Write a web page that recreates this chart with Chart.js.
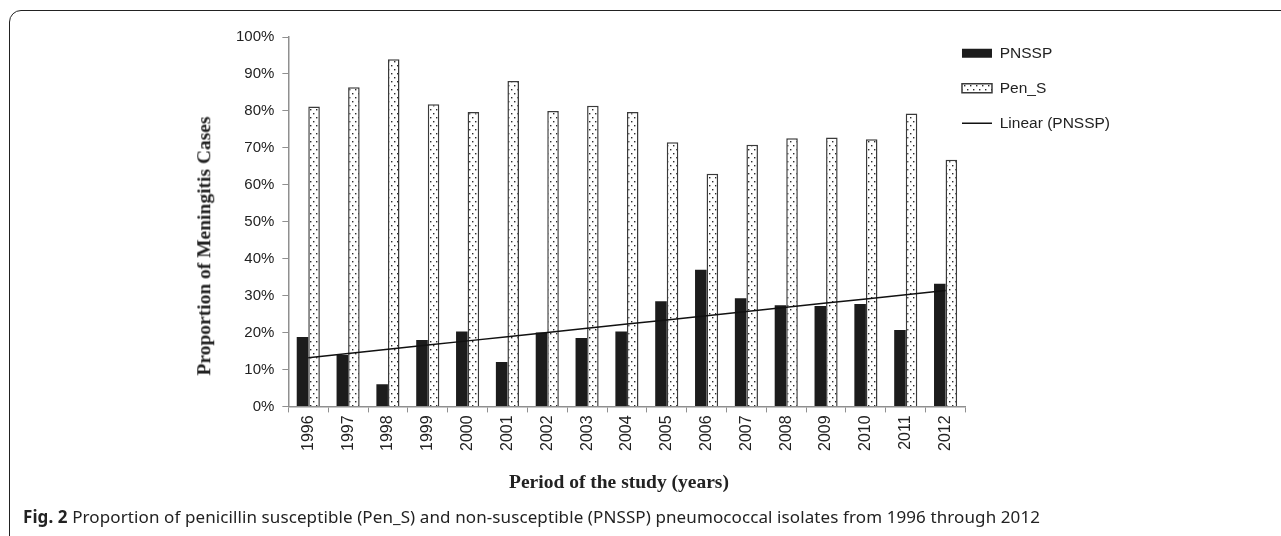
<!DOCTYPE html>
<html>
<head>
<meta charset="utf-8">
<script src="https://cdn.jsdelivr.net/npm/chart.js@4.4.0/dist/chart.umd.min.js"></script>
<style>
  html, body { margin: 0; padding: 0; background: #fff; }
  #wrap { position: relative; width: 1281px; height: 536px; overflow: hidden; }
  #frame {
    position: absolute; left: 9px; top: 10px; width: 1320px; height: 580px;
    border: 1.5px solid #222; border-radius: 12px; box-sizing: border-box;
  }
  #chart { position: absolute; left: 0; top: 0; }
  .axis-title {
    position: absolute; white-space: nowrap; line-height: 1;
    font-family: "Liberation Serif", "Times New Roman", serif;
    font-weight: bold; font-size: 19.5px; color: #222;
    transform: translate(-50%, -50%);
  }
  #ytitle { left: 204px; top: 246px; transform: translate(-50%, -50%) rotate(-90deg); }
  #xtitle { left: 619px; top: 482px; }
  #caption {
    position: absolute; left: 23px; top: 505px; white-space: nowrap;
    font-family: "Noto Sans", sans-serif; font-size: 17px; letter-spacing: 0.1px; color: #222;
  }
  #caption b { font-weight: 700; }
</style>
</head>
<body>
<div id="wrap">
  <div id="frame"></div>
  <canvas id="chart" width="1281" height="536"></canvas>
  <div class="axis-title" id="ytitle">Proportion of Meningitis Cases</div>
  <div class="axis-title" id="xtitle">Period of the study (years)</div>
  <div id="caption"><b>Fig. 2</b> Proportion of penicillin susceptible (Pen_S) and non-susceptible (PNSSP) pneumococcal isolates from 1996 through 2012</div>
</div>
<script>
const years = ["1996", "1997", "1998", "1999", "2000", "2001", "2002", "2003", "2004",
  "2005", "2006", "2007", "2008", "2009", "2010", "2011", "2012"];
const pnssp = [18.8, 13.9, 6.0, 18.0, 20.3, 12.0, 20.0, 18.5, 20.3,
  28.5, 37.0, 29.3, 27.4, 27.2, 27.7, 20.7, 33.2];
const penS = [81.2, 86.4, 94.0, 81.8, 79.7, 88.1, 80.0, 81.4, 79.7,
  71.5, 63.0, 70.8, 72.6, 72.8, 72.3, 79.3, 66.8];
const yTicks = [0, 10, 20, 30, 40, 50, 60, 70, 80, 90, 100];

// least squares fit of PNSSP, that's what the "Linear (PNSSP)" trendline is
function linearFit(vals) {
  const n = vals.length;
  const mx = (n - 1) / 2;
  const my = vals.reduce((a, b) => a + b, 0) / n;
  let sxy = 0, sxx = 0;
  vals.forEach((v, i) => { sxy += (i - mx) * (v - my); sxx += (i - mx) * (i - mx); });
  const slope = sxy / sxx;
  return vals.map((v, i) => my + slope * (i - mx));
}

// white with small staggered dots, like the Pen_S bars
function dotPattern() {
  const c = document.createElement("canvas");
  c.width = 6; c.height = 8;
  const g = c.getContext("2d");
  g.fillStyle = "#fff";
  g.fillRect(0, 0, 6, 8);
  g.fillStyle = "#2a2a2a";
  g.fillRect(1, 1, 1.4, 1.4);
  g.fillRect(4, 5, 1.4, 1.4);
  return g.createPattern(c, "repeat");
}

const axisGrey = "#8f8f8f";
const textCol = "#222";

// nudge the right-hand legend up and closer to the plot
const legendShift = {
  id: "legendShift",
  afterLayout(chart) {
    const lg = chart.legend;
    lg.left -= 23; lg.right -= 23;
    lg.top -= 11; lg.bottom -= 11;
  }
};

Chart.defaults.font.family = "'Liberation Sans', Arial, sans-serif";
Chart.defaults.color = textCol;

const ctx = document.getElementById("chart").getContext("2d");
new Chart(ctx, {
  type: "bar",
  data: {
    labels: years,
    datasets: [
      {
        label: "PNSSP",
        data: pnssp,
        backgroundColor: "#1c1c1c",
        borderWidth: 0,
        pointStyle: "rect",
      },
      {
        label: "Pen_S",
        data: penS,
        backgroundColor: dotPattern(),
        borderColor: "#3a3a3a",
        borderWidth: 1.5,
        pointStyle: "rect",
      },
      {
        type: "line",
        label: "Linear (PNSSP)",
        data: linearFit(pnssp),
        borderColor: "#111",
        backgroundColor: "#111",
        borderWidth: 1.5,
        pointRadius: 0,
        pointStyle: "line",
        order: -1,
      },
    ],
  },
  options: {
    responsive: false,
    animation: false,
    categoryPercentage: 0.58,
    barPercentage: 1.0,
    layout: { padding: { left: 228, top: 37, right: 138, bottom: 82 } },
    plugins: {
      tooltip: { enabled: false },
      legend: {
        position: "right",
        align: "start",
        labels: {
          usePointStyle: true,
          pointStyleWidth: 30,
          boxHeight: 9,
          padding: 19.5,
          color: textCol,
          font: { size: 15.5 },
          sort: (a, b) => a.datasetIndex - b.datasetIndex,
        },
      },
    },
    scales: {
      x: {
        grid: { drawOnChartArea: false, drawTicks: true, tickLength: 6, color: axisGrey },
        border: { color: axisGrey, width: 1.5 },
        ticks: { minRotation: 90, maxRotation: 90, padding: 3, color: textCol, font: { size: 16 } },
      },
      y: {
        min: 0,
        max: 100,
        afterBuildTicks: (axis) => { axis.ticks = yTicks.map((v) => ({ value: v })); },
        grid: { drawOnChartArea: false, drawTicks: true, tickLength: 6, color: axisGrey },
        border: { color: axisGrey, width: 1.5 },
        ticks: { padding: 8, color: textCol, font: { size: 15 }, callback: (v) => v + "%" },
      },
    },
  },
  plugins: [legendShift],
});
</script>
</body>
</html>
